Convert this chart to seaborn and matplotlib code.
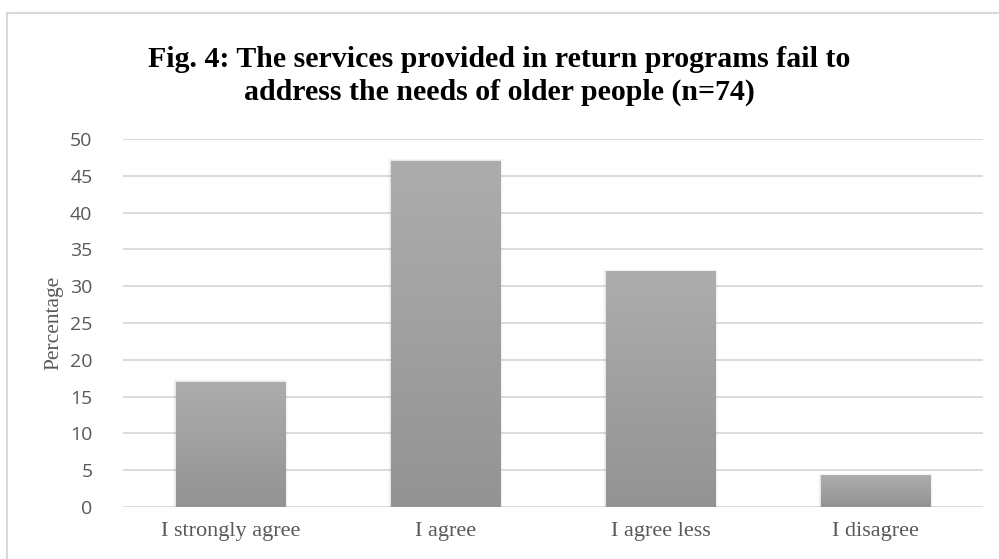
import numpy as np
import pandas as pd
import matplotlib
matplotlib.use("Agg")
import matplotlib.pyplot as plt
import seaborn as sns
from matplotlib.patches import Rectangle

categories = ["I strongly agree", "I agree", "I agree less", "I disagree"]
values = [17, 47, 32, 4.3]
yticks = [0, 5, 10, 15, 20, 25, 30, 35, 40, 45, 50]
title = "Fig. 4: The services provided in return programs fail to\naddress the needs of older people (n=74)"
ylabel = "Percentage"

sns.set_theme(style="white")
df = pd.DataFrame({"cat": categories, "val": values})

fig = plt.figure(figsize=(9.99, 5.59), dpi=100)
ax = fig.add_axes([123/999, 1-507/559, (983-123)/999, (507-139)/559])

sns.barplot(data=df, x="cat", y="val", color="#a0a0a0", width=0.507, ax=ax,
            saturation=1, zorder=3, linewidth=0, edgecolor="none")

ax.set_ylim(0, 50)
ax.set_xlim(-0.5, 3.5)
ax.set_yticks(yticks)
for y in yticks:
    ax.axhline(y, color="#d9d9d9", lw=1.3, zorder=1)
for s in ax.spines.values():
    s.set_visible(False)

# gradient + soft shadow on each bar
grad = np.linspace(0, 1, 256).reshape(-1, 1)
cmap = matplotlib.colors.LinearSegmentedColormap.from_list("g", ["#939393", "#adadad"])
for p in list(ax.patches):
    x0, y0 = p.get_x(), p.get_y()
    w, h = p.get_width(), p.get_height()
    for k, a in enumerate([0.05, 0.03, 0.015]):
        d = 0.005 * (k + 1)
        sh = Rectangle((x0 - d, y0), w + 2 * d, h + d * 22, facecolor="#000000",
                       alpha=a, edgecolor="none", zorder=2)
        ax.add_patch(sh)
    im = ax.imshow(grad, extent=[x0, x0 + w, y0, y0 + h], origin="lower",
                   cmap=cmap, aspect="auto", zorder=4)
    im.set_clip_path(p)

ax.set_xlim(-0.5, 3.5)
ax.set_ylim(0, 50)

ax.set_xlabel("")
ax.set_ylabel(ylabel, family="Liberation Serif", fontsize=15.5, color="#595959")
ax.yaxis.set_label_coords(-(123-63)/860, 0.5)
ax.tick_params(axis="y", length=0, pad=22, labelsize=14, labelcolor="#595959")
ax.tick_params(axis="x", length=0, pad=11, labelsize=16, labelcolor="#595959")
for t in ax.get_yticklabels():
    t.set_family("Open Sans")
for t in ax.get_xticklabels():
    t.set_family("Liberation Serif")

fig.text(0.5, 1-76/559, title, ha="center", va="center", family="Liberation Serif",
         fontweight="bold", fontsize=21.5, color="#000000", linespacing=1.3)

# outer frame
fig.patches.append(Rectangle((7/999, -0.05), 1.1, 1-13/559 + 0.05, transform=fig.transFigure,
                             fill=False, edgecolor="#d9d9d9", lw=1.5))

fig.savefig("out.png", dpi=100)
